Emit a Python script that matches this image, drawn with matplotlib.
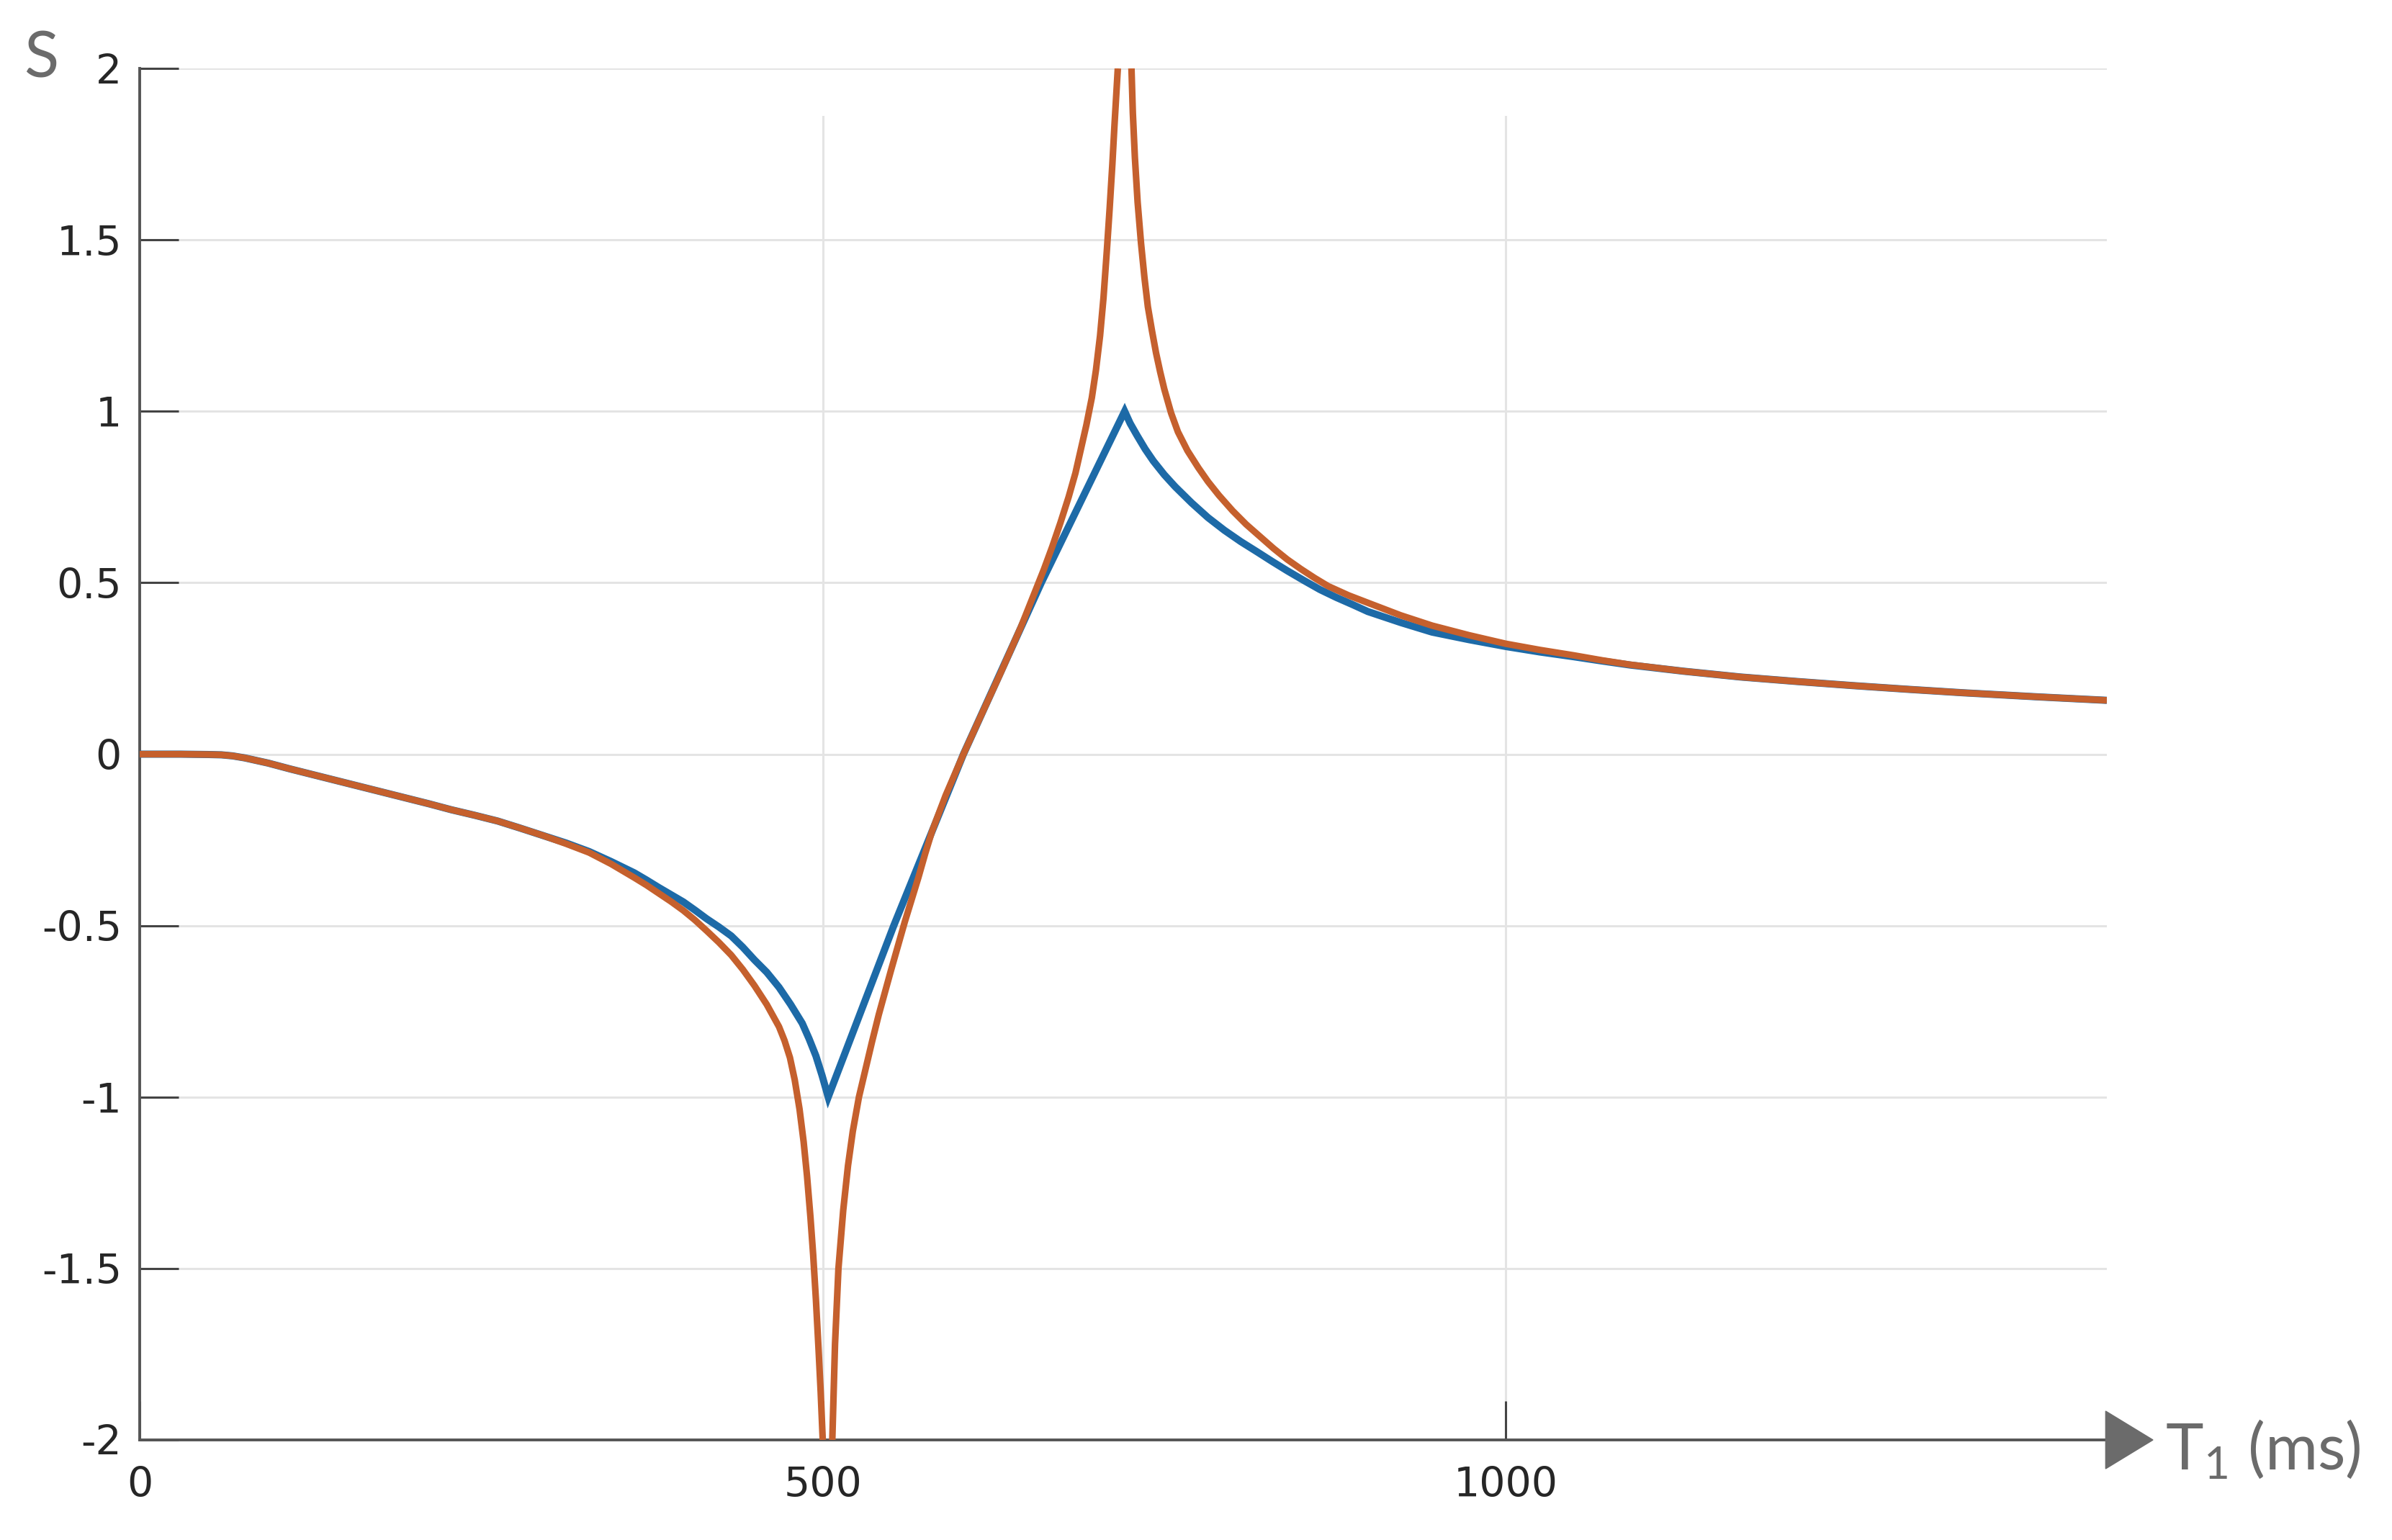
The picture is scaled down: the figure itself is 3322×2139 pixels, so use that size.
import numpy as np
import matplotlib
matplotlib.use("Agg")
import matplotlib.pyplot as plt
from matplotlib.patches import Polygon

# ---------------- data ----------------
blue_t1 = [0, 30, 40, 50, 60, 68, 77, 94, 110, 127, 144, 161, 178, 195, 212, 228,
           245, 262, 278, 295, 312, 329, 345, 362, 371, 380, 389, 398, 406.5, 415,
           424, 433, 441.5, 450, 459, 468, 476.5, 485, 490, 495, 499.5, 504,
           552, 603, 660, 721,
           725, 730, 736, 742, 750, 758, 770, 782, 794, 806, 818, 829, 840, 852,
           864, 876, 888, 899, 923, 946, 973, 1000, 1025, 1050, 1070, 1091, 1130,
           1172, 1213, 1254, 1295, 1335, 1390, 1440]
blue_s = [0, 0, -0.0005, -0.001, -0.002, -0.005, -0.011, -0.026, -0.043, -0.060,
          -0.077, -0.094, -0.111, -0.128, -0.145, -0.162, -0.178, -0.195, -0.215,
          -0.237, -0.259, -0.284, -0.313, -0.346, -0.367, -0.389, -0.41, -0.431,
          -0.455, -0.48, -0.504, -0.53, -0.563, -0.60, -0.636, -0.68, -0.73,
          -0.785, -0.83, -0.88, -0.937, -1.0,
          -0.50, 0.0, 0.50, 1.0,
          0.965, 0.93, 0.89, 0.855, 0.815, 0.78, 0.733, 0.69, 0.653, 0.62, 0.59,
          0.562, 0.535, 0.507, 0.48, 0.457, 0.436, 0.416, 0.384, 0.356, 0.334,
          0.314, 0.298, 0.284, 0.272, 0.260, 0.242, 0.225, 0.212, 0.200, 0.189,
          0.179, 0.167, 0.157]

# orange ratio curve, three branches separated by NaN at the two poles
orange_t1 = [0, 30, 40, 50, 60, 68, 77, 94, 110, 127, 144, 161, 178, 195, 212, 228,
             245, 262, 278, 295, 312, 329, 345, 362, 371, 380, 389, 398, 406.5, 415,
             424, 433, 441.5, 450, 459, 468, 472, 476, 479.5, 483, 486, 488.5, 491,
             493, 495, 497, 498.5, 500,
             np.nan,
             507, 509, 511.5, 515, 518.5, 522, 526.5, 531, 536, 541, 545.5, 550, 555,
             560, 565, 570, 575, 580, 590, 603, 615, 630, 645, 655, 662, 668, 674,
             680, 685, 689, 693, 697, 700, 703, 705.5, 708, 710, 712, 713.5, 715, 716,
             np.nan,
             726, 727, 728.5, 730.5, 733, 735.5, 738, 741, 744, 747, 750, 755, 760,
             767, 775, 782, 790, 800, 810, 820, 830, 840, 850, 860, 870, 885, 900,
             923, 946, 973, 1000, 1025, 1050, 1070, 1091, 1130, 1172, 1213, 1254,
             1295, 1335, 1390, 1440]
orange_s = [0, 0, -0.0005, -0.001, -0.002, -0.005, -0.011, -0.026, -0.043, -0.060,
            -0.077, -0.094, -0.111, -0.128, -0.145, -0.162, -0.178, -0.195, -0.215,
            -0.237, -0.261, -0.287, -0.320, -0.36, -0.382, -0.406, -0.43, -0.456,
            -0.484, -0.515, -0.549, -0.586, -0.628, -0.675, -0.73, -0.795, -0.835,
            -0.885, -0.95, -1.035, -1.13, -1.23, -1.35, -1.46, -1.59, -1.74, -1.86,
            -2.0,
            np.nan,
            -2.0, -1.72, -1.50, -1.33, -1.20, -1.10, -1.0, -0.924, -0.84, -0.76,
            -0.695, -0.63, -0.56, -0.49, -0.425, -0.36, -0.29, -0.225, -0.12, 0.0,
            0.105, 0.235, 0.37, 0.47, 0.54, 0.605, 0.675, 0.75, 0.82, 0.89, 0.96,
            1.04, 1.12, 1.22, 1.33, 1.47, 1.59, 1.72, 1.83, 1.93, 2.0,
            np.nan,
            2.0, 1.87, 1.74, 1.61, 1.49, 1.39, 1.305, 1.235, 1.17, 1.115, 1.065,
            0.995, 0.94, 0.885, 0.835, 0.795, 0.755, 0.71, 0.67, 0.635, 0.60, 0.568,
            0.54, 0.514, 0.49, 0.463, 0.44, 0.405, 0.375, 0.347, 0.322, 0.304, 0.288,
            0.274, 0.261, 0.242, 0.225, 0.212, 0.200, 0.189, 0.179, 0.167, 0.157]

xticks = [0, 500, 1000]
xtick_labels = ['0', '500', '1000']
yticks = [-2, -1.5, -1, -0.5, 0, 0.5, 1, 1.5, 2]
ytick_labels = ['-2', '-1.5', '-1', '-0.5', '0', '0.5', '1', '1.5', '2']
xlim = (0, 1440)
ylim = (-2, 2)

# ---------------- figure ----------------
W, H, DPI = 3322, 2139, 200
fig = plt.figure(figsize=(W / DPI, H / DPI), dpi=DPI)
fig.patch.set_facecolor('white')

ax_l, ax_r = 194 / W, 2926 / W
ax_b, ax_t = 1 - 2000 / H, 1 - 95 / H
ax = fig.add_axes([ax_l, ax_b, ax_r - ax_l, ax_t - ax_b])

grid_c = '#e4e4e4'
for yv in yticks:
    ax.axhline(yv, color=grid_c, lw=1.1, zorder=0)
for xv in xticks[1:]:
    ax.axvline(xv, ymin=0, ymax=0.965, color=grid_c, lw=1.1, zorder=0)

ax.plot(blue_t1, blue_s, color='#1d6aa7', lw=3.6, zorder=3,
        solid_joinstyle='miter', solid_capstyle='butt')
ax.plot(orange_t1, orange_s, color='#c5602d', lw=3.3, zorder=4,
        solid_joinstyle='round', solid_capstyle='butt')

ax.set_xlim(*xlim)
ax.set_ylim(*ylim)
ax.set_xticks(xticks)
ax.set_xticklabels(xtick_labels)
ax.set_yticks(yticks)
ax.set_yticklabels(ytick_labels)

for s in ('top', 'right'):
    ax.spines[s].set_visible(False)
for s in ('left', 'bottom'):
    ax.spines[s].set_color('#555555')
    ax.spines[s].set_linewidth(1.4)

ax.tick_params(axis='both', direction='in', length=19.5, width=1.1,
               color='#444444', labelcolor='#262626', labelsize=20.5)
ax.tick_params(axis='y', pad=9)
ax.tick_params(axis='x', pad=13)

# arrow head at the end of the x axis
gray = '#6b6b6b'
tip_x = 2990 / W
half_h = 40 / H
tri = Polygon([[ax_r - 0.0005, ax_b - half_h], [tip_x, ax_b], [ax_r - 0.0005, ax_b + half_h]],
              closed=True, transform=fig.transFigure, facecolor=gray, edgecolor=gray,
              lw=0.5, clip_on=False)
fig.patches.append(tri)

# axis labels
fig.text(3007 / W, 1 - 2040 / H, r'$\mathregular{T_1}$ (ms)', color=gray,
         fontsize=32, family=['Lato', 'DejaVu Sans'], ha='left', va='baseline')
fig.text(33 / W, 1 - 107 / H, 'S', color=gray, fontsize=32,
         family=['Lato', 'DejaVu Sans'], ha='left', va='baseline')

fig.savefig('out.png', dpi=DPI, facecolor='white')
